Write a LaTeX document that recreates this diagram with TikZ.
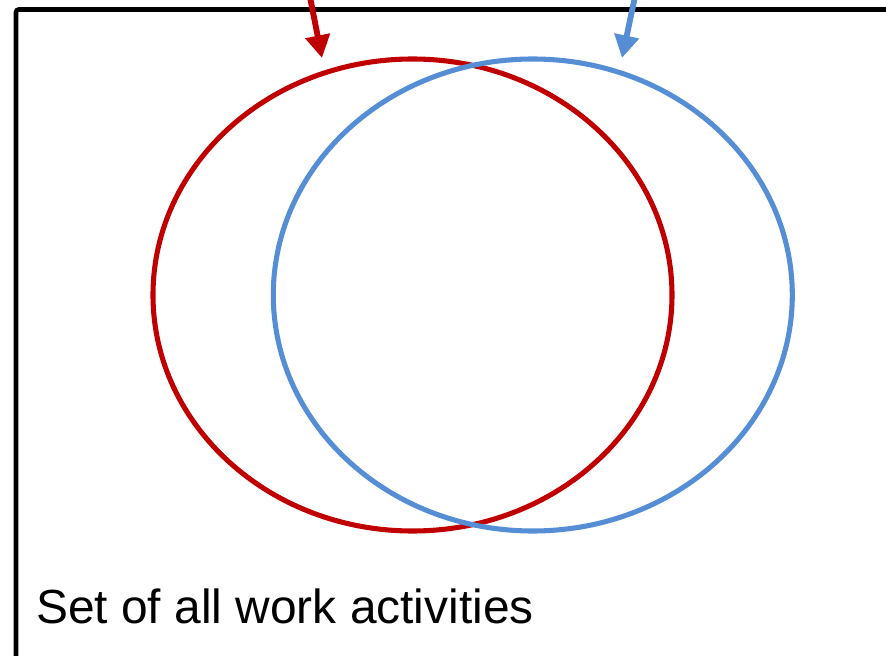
\documentclass[tikz,border=0pt]{standalone}
\usepackage{fontspec}
\setmainfont{Liberation Sans}
\usepackage{xcolor}
\usepackage{tikz}
\usetikzlibrary{positioning,shapes.geometric,arrows.meta}
\definecolor{setred}{RGB}{192, 0, 0}
\definecolor{setblue}{RGB}{85, 142, 213}

\begin{document}
\begin{tikzpicture}[
    x=0.75pt, y=-0.75pt,
    frame/.style={draw=black,line width=3.4pt,rounded corners=2pt},
    venn/.style={ellipse,line width=3.8pt,minimum width=389.25pt,minimum height=354pt,inner sep=0pt},
    arr/.style={-{Triangle[length=17pt,width=18pt]},line width=4.4pt}
]
\useasboundingbox (0,0) rectangle (886,656);
\clip (0,0) rectangle (886,656);
\draw[frame] (16,9.5) rectangle (920,700);
\node[venn, draw=setred]  (red)  at (412.5,295) {};
\node[venn, draw=setblue] (blue) at (532.8,295) {};
\node[anchor=base west, inner sep=0pt, font=\fontsize{35.9pt}{40pt}\selectfont] (all) at (36,623) {Set of all work activities};
\coordinate (redsrc)  at (309,-8);
\coordinate (redtip)  at (322,58);
\coordinate (bluesrc) at (636,-8);
\coordinate (bluetip) at (622,58);
\draw[arr, setred]  (redsrc)  -- (redtip);
\draw[arr, setblue] (bluesrc) -- (bluetip);
\end{tikzpicture}
\end{document}
